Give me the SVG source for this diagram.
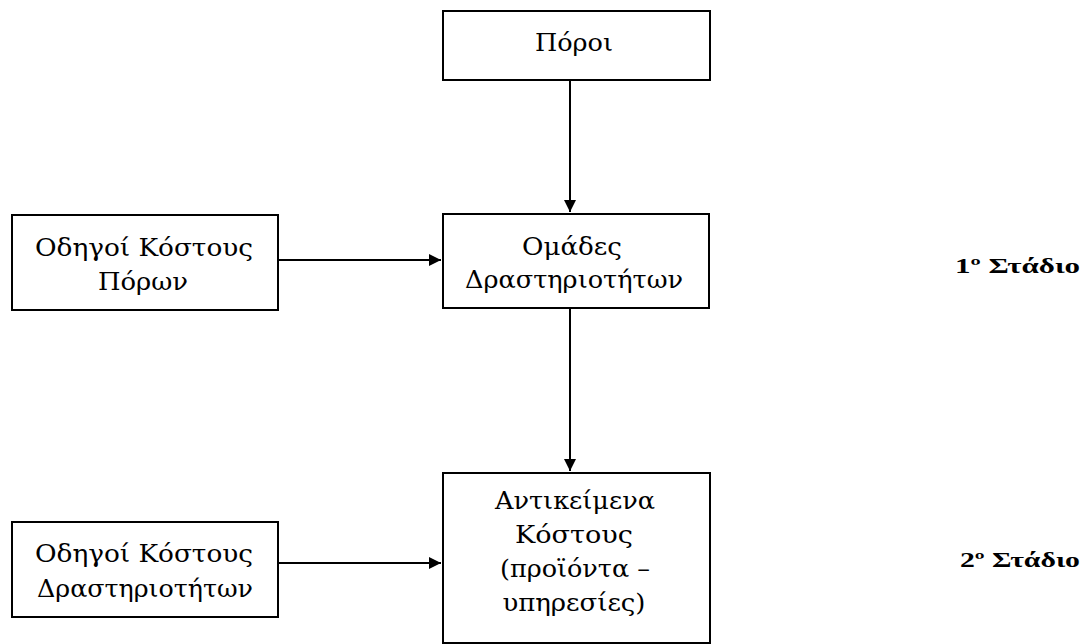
<svg xmlns="http://www.w3.org/2000/svg" width="1092" height="644" viewBox="0 0 1092 644">
<style>
.box{fill:#fff;stroke:#000;stroke-width:2}
.t{font-family:"DejaVu Serif","Liberation Serif",serif;font-size:24px;fill:#000;text-anchor:middle}
.s{font-family:"Liberation Serif",serif;font-size:22px;font-weight:bold;fill:#000}
.c{stroke:#000;stroke-width:2;fill:none}
</style>
<defs>
<marker id="ah" viewBox="0 0 12 12" refX="12" refY="6" markerWidth="12" markerHeight="12" markerUnits="userSpaceOnUse" orient="auto">
<path d="M0,0 L12,6 L0,12 Z" fill="#000"/>
</marker>
</defs>
<rect width="1092" height="644" fill="#fff"/>
<g id="connectors">
<line class="c" x1="570" y1="80" x2="570" y2="212" marker-end="url(#ah)"/>
<line class="c" x1="278" y1="260" x2="441" y2="260" marker-end="url(#ah)"/>
<line class="c" x1="570" y1="308" x2="570" y2="471" marker-end="url(#ah)"/>
<line class="c" x1="278" y1="563" x2="441" y2="563" marker-end="url(#ah)"/>
</g>
<g id="poroi">
<rect class="box" x="443" y="11" width="267" height="69"/>
<text class="t" x="574" y="51" textLength="78" lengthAdjust="spacingAndGlyphs">Πόροι</text>
</g>
<g id="odigoi-porwn">
<rect class="box" x="12" y="215" width="266" height="95"/>
<text class="t" x="144" y="256" textLength="218" lengthAdjust="spacingAndGlyphs">Οδηγοί Κόστους</text>
<text class="t" x="143" y="290" textLength="90" lengthAdjust="spacingAndGlyphs">Πόρων</text>
</g>
<g id="omades">
<rect class="box" x="443" y="214" width="266" height="94"/>
<text class="t" x="572" y="255" textLength="100" lengthAdjust="spacingAndGlyphs">Ομάδες</text>
<text class="t" x="574" y="288" textLength="218" lengthAdjust="spacingAndGlyphs">Δραστηριοτήτων</text>
</g>
<g id="antikeimena">
<rect class="box" x="443" y="473" width="267" height="170"/>
<text class="t" x="575" y="509" textLength="160" lengthAdjust="spacingAndGlyphs">Αντικείμενα</text>
<text class="t" x="574" y="543" textLength="118" lengthAdjust="spacingAndGlyphs">Κόστους</text>
<text class="t" x="575" y="577" textLength="150" lengthAdjust="spacingAndGlyphs">(προϊόντα –</text>
<text class="t" x="574" y="611" textLength="143" lengthAdjust="spacingAndGlyphs">υπηρεσίες)</text>
</g>
<g id="odigoi-drast">
<rect class="box" x="12" y="522" width="266" height="95"/>
<text class="t" x="144" y="562" textLength="218" lengthAdjust="spacingAndGlyphs">Οδηγοί Κόστους</text>
<text class="t" x="145" y="597" textLength="216" lengthAdjust="spacingAndGlyphs">Δραστηριοτήτων</text>
</g>
<g id="stage1">
<text class="s" x="955" y="273" textLength="125" lengthAdjust="spacingAndGlyphs">1º Στάδιο</text>
</g>
<g id="stage2">
<text class="s" x="960" y="567" textLength="120" lengthAdjust="spacingAndGlyphs">2º Στάδιο</text>
</g>
</svg>
